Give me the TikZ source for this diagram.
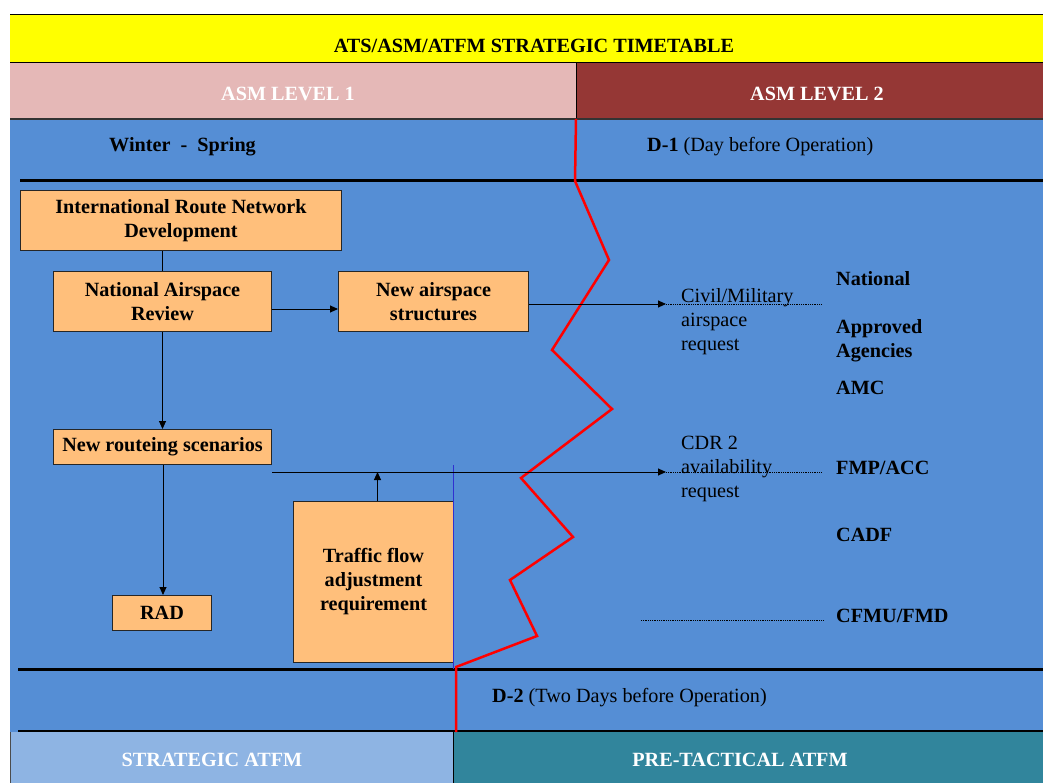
\documentclass[tikz,border=0pt]{standalone}
\usepackage{fontspec}
\setmainfont{Liberation Serif}
\usetikzlibrary{arrows.meta}
\definecolor{ttlyellow}{HTML}{FFFF00}
\definecolor{lvlpink}{HTML}{E5B8B7}
\definecolor{lvlred}{HTML}{953735}
\definecolor{bgblue}{HTML}{558ED5}
\definecolor{boxorange}{HTML}{FFBF7B}
\definecolor{stratblue}{HTML}{8EB4E3}
\definecolor{preteal}{HTML}{31859C}
\definecolor{thinblue}{HTML}{3030D0}
\tikzset{
  txt/.style={font=\fontsize{20.2}{24}\selectfont, inner sep=0pt},
  btxt/.style={txt, font=\fontsize{20.2}{24}\selectfont\bfseries},
  wtxt/.style={txt, font=\fontsize{20.2}{24}\selectfont\bfseries, text=white},
  obox/.style={draw=black!85, line width=1pt, fill=boxorange, inner sep=0pt, align=center,
    anchor=north west, font=\fontsize{20.2}{24}\selectfont\bfseries},
  arr/.style={line width=0.9pt, -{Triangle[length=8pt,width=7pt]}},
  plain/.style={line width=0.9pt},
  dots/.style={line width=0.8pt, dash pattern=on 0.9pt off 0.9pt},
  thick rule/.style={line width=3pt},
}
\begin{document}
\begin{tikzpicture}[x=1pt,y=-1pt]
\useasboundingbox (0,0) rectangle (1043,783);
\fill[white] (0,0) rectangle (1043,783);
% background bands
\fill[ttlyellow] (10,15) rectangle (1043,63);
\fill[lvlpink] (10,63) rectangle (576,119);
\fill[lvlred] (576,63) rectangle (1043,119);
\fill[bgblue] (10,119) rectangle (1043,732);
\fill[stratblue] (10,732) rectangle (453,783);
\fill[preteal] (453,732) rectangle (1043,783);
\draw[line width=1pt] (10,15) -- (1043,15);
\draw[line width=1pt] (10,63) -- (1043,63);
\draw[line width=1pt] (576,63) -- (576,119);
\draw[line width=1.5pt, black!80] (10,119) -- (1043,119);
\draw[line width=0.6pt, black!70] (10,732) -- (10,783);
\draw[thick rule] (20,181) -- (1043,181);
\draw[thick rule] (18,669) -- (1043,669);
\draw[line width=2pt] (18,731) -- (1043,731);
\draw[line width=0.8pt] (453,732) -- (453,783);
% header texts
\node[btxt] (title) at (534,46) {ATS/ASM/ATFM STRATEGIC TIMETABLE};
\node[wtxt] (lvl1) at (288,94) {ASM LEVEL 1};
\node[wtxt] (lvl2) at (817,94) {ASM LEVEL 2};
\node[btxt, anchor=west] (winter) at (109,147) {Winter \ - \ Spring};
\node[txt, anchor=west] (dm1) at (647,147) {\textbf{D-1} (Day before Operation)};
\node[txt, anchor=west] (dm2) at (492,698) {\textbf{D-2} (Two Days before Operation)};
\node[wtxt] (strat) at (212,760) {STRATEGIC ATFM};
\node[wtxt] (pretac) at (740,760) {PRE-TACTICAL ATFM};
% boxes
\node[obox, minimum width=321pt, minimum height=60pt] (intl) at (20,190) {International Route Network\\Development};
\node[obox, minimum width=218pt, minimum height=60pt] (nar) at (53,271) {National Airspace\\Review};
\node[obox, minimum width=190pt, minimum height=60pt] (nas) at (338,271) {New airspace\\structures};
\node[obox, minimum width=218pt, minimum height=35pt] (nrs) at (53,429) {New routeing scenarios};
\node[obox, minimum width=99pt, minimum height=35pt] (rad) at (112,595) {RAD};
\node[obox, minimum width=160pt, minimum height=161pt] (tfa) at (293,501) {Traffic flow\\adjustment\\requirement};
% thin blue line
\draw[thinblue, line width=0.8pt] (453.5,465) -- (453.5,669);
% red zigzag
\draw[red, line width=2.5pt, line join=miter] (576,119) -- (575,181) -- (609,260) -- (552,350) -- (612,409)
  -- (521,478) -- (573,537) -- (510,580) -- (537,636) -- (456,667) -- (456,732);
% right-hand texts
\node[txt, anchor=north west, align=left] (civreq) at (681,288) {Civil/Military\\airspace\\request};
\node[txt, anchor=north west, align=left] (cdrreq) at (681,436) {CDR 2\\availability\\request};
\node[btxt, anchor=west] (natl) at (836,279) {National};
\node[btxt, anchor=north west, align=left] (appr) at (836,319) {Approved\\Agencies};
\node[btxt, anchor=west] (amc) at (836,388) {AMC};
\node[btxt, anchor=west] (fmp) at (836,468) {FMP/ACC};
\node[btxt, anchor=west] (cadf) at (836,535) {CADF};
\node[btxt, anchor=west] (cfmu) at (836,616) {CFMU/FMD};
% connectors
\coordinate (civtip) at (666,304);
\coordinate (civend) at (822,304);
\coordinate (cdrstart) at (272,472);
\coordinate (cdrtip) at (666,472);
\coordinate (cdrend) at (822,472);
\coordinate (cfmustart) at (641,620);
\coordinate (cfmuend) at (823,620);
\draw[plain] (nar.north) -- (nar.north |- intl.south);
\draw[arr] (nar.east |- 0,309) -- (nas.west |- 0,309);
\draw[arr] (nar.south) -- (nrs.north);
\draw[arr] (nrs.south -| 163,0) -- (rad.north -| 163,0);
\draw[arr] (nas.east |- civtip) -- (civtip);
\draw[dots] (civtip) -- (civend);
\draw[arr] (cdrstart) -- (cdrtip);
\draw[dots] (cdrtip) -- (cdrend);
\draw[arr] (tfa.north -| 377.5,0) -- (cdrstart -| 377.5,0);
\draw[dots] (cfmustart) -- (cfmuend);
\end{tikzpicture}
\end{document}
